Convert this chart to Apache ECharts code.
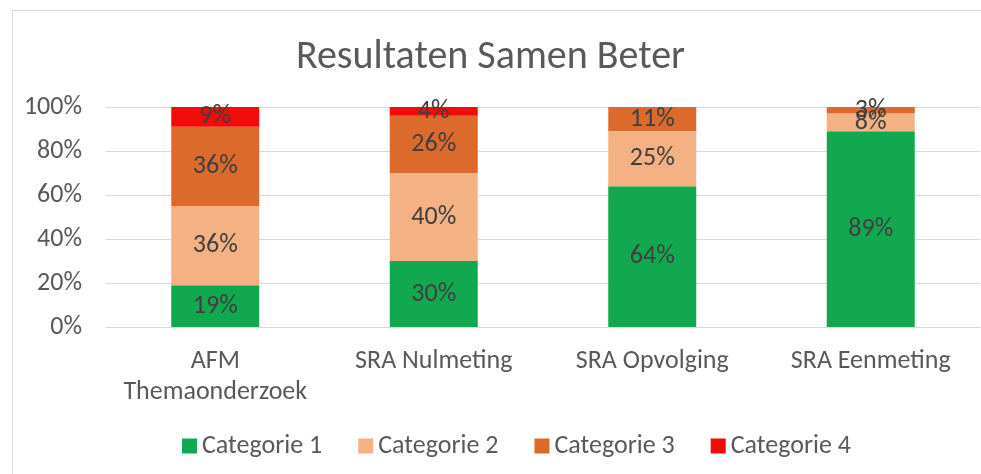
<!DOCTYPE html>
<html>
<head>
<meta charset="utf-8">
<script src="https://cdn.jsdelivr.net/npm/echarts@6/dist/echarts.min.js"></script>
<style>
  html, body { margin: 0; padding: 0; background: #fff; }
  #chart { width: 981px; height: 474px; }
</style>
</head>
<body>
<div id="chart"></div>
<script>
var categories = ['AFM\nThemaonderzoek', 'SRA Nulmeting', 'SRA Opvolging', 'SRA Eenmeting']
var cat1 = [19, 30, 64, 89]
var cat2 = [36, 40, 25, 8]
var cat3 = [36, 26, 11, 3]
var cat4 = [9, 4, 0, 0]
var seriesNames = ['Categorie 1', 'Categorie 2', 'Categorie 3', 'Categorie 4']
var yTicks = [0, 20, 40, 60, 80, 100]

var colors = ['#12a84f', '#f4b183', '#dc6a2c', '#f50a0a']
var font = 'Carlito, Lato, "Open Sans", sans-serif'

function makeSeries(name, data) {
    return {
        name: name,
        type: 'bar',
        stack: 'total',
        barWidth: 88,
        data: data,
        label: {
            show: true,
            position: 'inside',
            color: '#404040',
            fontSize: 26,
            fontFamily: font,
            formatter: function(p) { return p.value ? p.value + '%' : '' }
        }
    }
}

var myChart = echarts.init(document.getElementById('chart'))
var option = {
    color: colors,
    animation: false,
    title: {
        text: 'Resultaten Samen Beter',
        left: 'center',
        top: 33,
        textStyle: { color: '#595959', fontSize: 40, fontWeight: 'normal', fontFamily: font }
    },
    graphic: [{
        type: 'rect',
        shape: { x: 12.5, y: 10.5, width: 1000, height: 600 },
        style: { fill: 'none', stroke: '#d9d9d9', lineWidth: 1 },
        silent: true
    }],
    legend: {
        top: 428,
        left: 177,
        itemWidth: 15,
        itemHeight: 15,
        itemGap: 36,
        icon: 'rect',
        textStyle: { color: '#595959', fontSize: 26, fontFamily: font },
        data: seriesNames
    },
    grid: { left: 106, right: 1, top: 107, bottom: 147 },
    xAxis: {
        type: 'category',
        data: categories,
        axisLine: { lineStyle: { color: '#d9d9d9' } },
        axisTick: { show: false },
        axisLabel: { interval: 0, color: '#595959', fontSize: 26, fontFamily: font, margin: 19, lineHeight: 31 }
    },
    yAxis: {
        type: 'value',
        min: yTicks[0],
        max: yTicks[yTicks.length - 1],
        interval: 20,
        axisLine: { show: false },
        axisTick: { show: false },
        splitLine: { lineStyle: { color: '#d9d9d9' } },
        axisLabel: { color: '#595959', fontSize: 26, fontFamily: font, margin: 24, formatter: '{value}%' }
    },
    series: [
        makeSeries(seriesNames[0], cat1),
        makeSeries(seriesNames[1], cat2),
        makeSeries(seriesNames[2], cat3),
        makeSeries(seriesNames[3], cat4)
    ]
}
myChart.setOption(option)
</script>
</body>
</html>
